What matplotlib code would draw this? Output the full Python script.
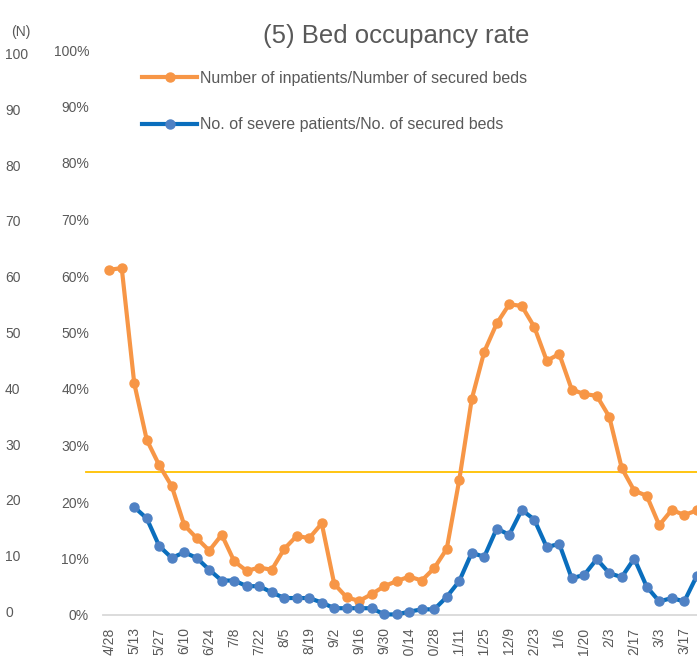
import numpy as np
import matplotlib
matplotlib.use("Agg")
import matplotlib.pyplot as plt
from matplotlib.transforms import blended_transform_factory

plt.rcParams['font.family'] = ['Liberation Sans', 'DejaVu Sans']

# ---- data ----
tick_labels = ["4/28", "5/13", "5/27", "6/10", "6/24", "7/8", "7/22", "8/5",
               "8/19", "9/2", "9/16", "9/30", "10/14", "10/28", "11/11", "11/25",
               "12/9", "12/23", "1/6", "1/20", "2/3", "2/17", "3/3", "3/17"]

inpatients_pct = [61.1, 61.4, 41.0, 31.0, 26.5, 22.8, 15.9, 13.6, 11.4, 14.2,
                  9.5, 7.8, 8.4, 8.0, 11.7, 14.0, 13.6, 16.2, 5.5, 3.1,
                  2.5, 3.7, 5.1, 6.0, 6.8, 6.1, 8.3, 11.7, 23.9, 38.2,
                  46.6, 51.6, 55.0, 54.7, 51.0, 45.0, 46.2, 39.9, 39.1, 38.8,
                  35.1, 26.0, 22.0, 21.1, 15.9, 18.6, 17.7, 18.5]

severe_pct = [np.nan, np.nan, 19.1, 17.1, 12.2, 10.1, 11.1, 10.1, 8.0, 6.1,
              6.1, 5.1, 5.1, 4.0, 3.0, 3.0, 3.0, 2.2, 1.2, 1.2,
              1.2, 1.2, 0.1, 0.1, 0.6, 1.0, 1.0, 3.2, 6.0, 11.0,
              10.3, 15.3, 14.2, 18.6, 16.9, 12.0, 12.6, 6.5, 7.1, 9.9,
              7.4, 6.7, 10.0, 5.0, 2.4, 3.0, 2.4, 6.9]

threshold_pct = 25.3
n_ticks = [0, 10, 20, 30, 40, 50, 60, 70, 80, 90, 100]
pct_ticks = [0, 10, 20, 30, 40, 50, 60, 70, 80, 90, 100]

series_labels = ["Number of inpatients/Number of secured beds",
                 "No. of severe patients/No. of secured beds"]

# ---- figure ----
W, H = 697, 656
fig = plt.figure(figsize=(W / 100, H / 100), dpi=100)
text_color = '#595959'

ax = fig.add_axes([103 / W, 41 / H, 600 / W, 565 / H])
x = np.arange(len(inpatients_pct))

l1, = ax.plot(x, inpatients_pct, color='#F79646', lw=3.0, marker='o', ms=6.5,
              mfc='#F79646', mec='#F79646', solid_joinstyle='round',
              label=series_labels[0], clip_on=False, zorder=3)
l2, = ax.plot(x, severe_pct, color='#0A6EBD', lw=3.0, marker='o', ms=6.5,
              mfc='#4F81C4', mec='#4F81C4', solid_joinstyle='round',
              label=series_labels[1], clip_on=False, zorder=4)

ax.plot([-1.85, len(x) + 1], [threshold_pct, threshold_pct], color='#FFC000',
        lw=1.3, clip_on=False, zorder=2)

ax.set_xlim(-0.5, len(x) - 0.5)
ax.set_ylim(0, 100)
ax.set_yticks(pct_ticks)
ax.set_yticklabels([f"{v}%" for v in pct_ticks])
ax.set_xticks(np.arange(0, len(x), 2)[:len(tick_labels)])
ax.set_xticklabels(tick_labels, rotation=90, ha='center', va='top')
ax.tick_params(axis='both', length=0, colors=text_color, labelsize=10)
ax.tick_params(axis='y', pad=10)
ax.tick_params(axis='x', pad=9)
for s in ['top', 'right', 'left']:
    ax.spines[s].set_visible(False)
ax.spines['bottom'].set_color('#D9D9D9')
ax.spines['bottom'].set_linewidth(1.3)

# secondary (N) label column
ax2 = fig.add_axes([0, 43 / H, 0.01, 558 / H])
ax2.set_ylim(0, 100)
ax2.axis('off')
tr = blended_transform_factory(fig.transFigure, ax2.transData)
for v in n_ticks:
    fig.text(5 / W, v, str(v), transform=tr, ha='left', va='center',
             fontsize=10, color=text_color)
fig.text(21 / W, 1 - 32 / H, "(N)", ha='center', va='center', fontsize=10,
         color=text_color)

fig.text(396 / W, 1 - 36 / H, "(5) Bed occupancy rate", ha='center', va='center',
         fontsize=18.5, color=text_color)

fig.legend(handles=[l1, l2], loc='upper left',
           bbox_to_anchor=(142 / W, 1 - 71 / H), frameon=False, fontsize=11.5,
           handlelength=3.45, handletextpad=0.2, labelspacing=1.95,
           borderpad=0, borderaxespad=0, labelcolor=text_color)

fig.savefig("out.png", dpi=100)
